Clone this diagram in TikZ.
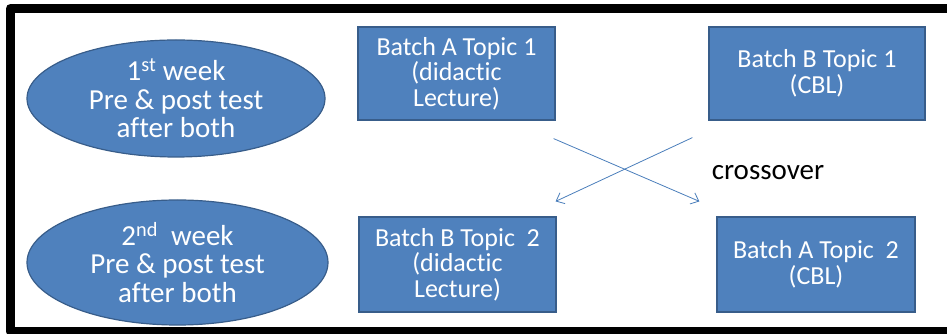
\documentclass[tikz,border=0pt]{standalone}
\usepackage{fontspec}
\setmainfont{Carlito}[Ligatures=NoCommon]
\usetikzlibrary{positioning,calc,shapes.geometric,arrows.meta}

\definecolor{boxblue}{HTML}{4F81BD}
\definecolor{boxedge}{HTML}{385D8A}
\definecolor{arrowblue}{HTML}{4A7EBB}

\begin{document}
\begin{tikzpicture}[
            x=1pt, y=1pt,
            week node/.style={ellipse,draw=boxedge,fill=boxblue,text=white,line width=1.2pt,
                align=center,inner sep=0pt,font=\fontsize{29}{28.5}\selectfont},
            batch node/.style={rectangle,draw=boxedge,fill=boxblue,text=white,line width=1.2pt,
                align=center,inner sep=0pt,font=\fontsize{26}{25.5}\selectfont},
            every edge/.style={draw=arrowblue,line width=0.8pt,-{Straight Barb[length=7pt,width=12pt]}},
        ]
            \useasboundingbox (0,0) rectangle (947,334);
            \draw[line width=9pt,line join=round] (947,325.5) -- (10.5,325.5) -- (10.5,2) -- (947,2);

            \node[week node,minimum width=298,minimum height=117] (w1) at (176,235.5)
                {1\textsuperscript{st} week\\Pre \& post test\\after both};
            \node[week node,minimum width=301,minimum height=125] (w2) at (177.5,71.5)
                {2\textsuperscript{nd}\ \ week\\Pre \& post test\\after both};

            \node[batch node,minimum width=197,minimum height=93] (a1) at (456.5,260.5)
                {Batch A Topic 1\\(didact\kern0pt ic\\Lecture)};
            \node[batch node,minimum width=216,minimum height=93] (b1) at (817,260.5)
                {Batch B Topic 1\\(CBL)};
            \node[batch node,minimum width=197,minimum height=95] (b2) at (457.5,69.5)
                {Batch B Topic\ \ 2\\(didact\kern0pt ic\\Lecture)};
            \node[batch node,minimum width=198,minimum height=95] (a2) at (816,69.5)
                {Batch A Topic\ \ 2\\(CBL)};

            \node[font=\fontsize{29}{30}\selectfont] (cross) at (768,161) {crossover};

            \path ([shift={(-2,-18)}]a1.south east) edge ([shift={(-17,15)}]a2.north west);
            \path ([shift={(-16,-17)}]b1.south west) edge ([shift={(-1,15)}]b2.north east);
        \end{tikzpicture}
\end{document}
